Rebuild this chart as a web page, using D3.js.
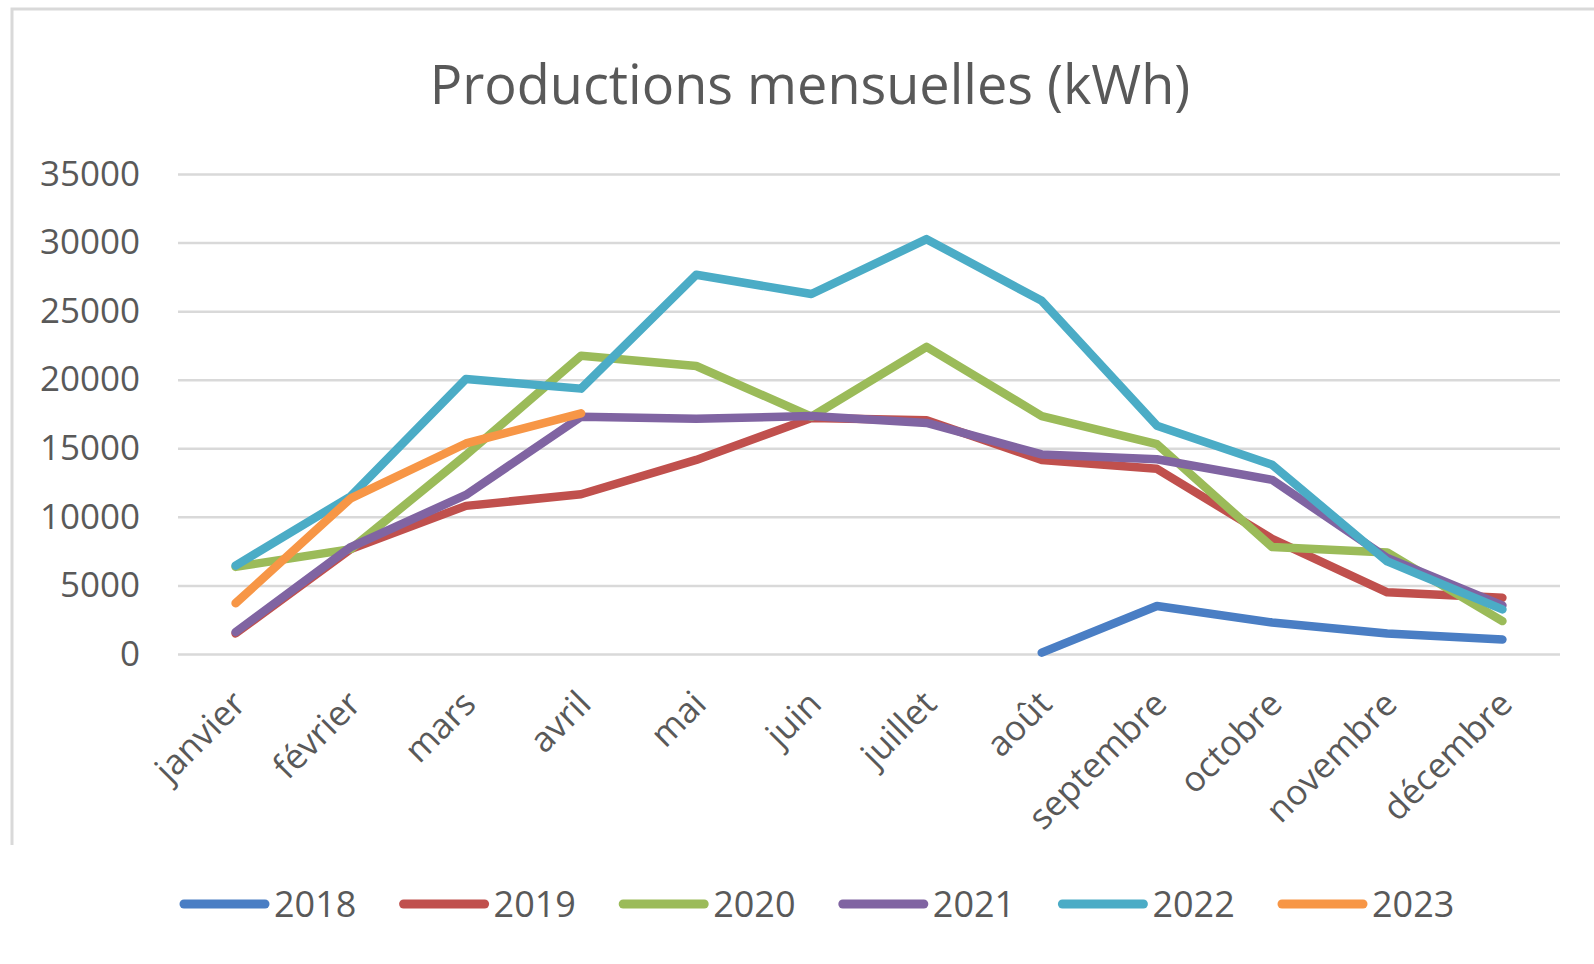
<!DOCTYPE html>
<html>
<head>
<meta charset="utf-8">
<script src="https://cdn.jsdelivr.net/npm/d3@7"></script>
<style>
  body { margin: 0; background: #fff; }
  text { font-family: "Open Sans", "Noto Sans", sans-serif; fill: #595959; }
</style>
</head>
<body>
<svg id="chart" width="1594" height="964"></svg>
<script>
// months along x axis
const months = ["janvier", "février", "mars", "avril", "mai", "juin", "juillet",
  "août", "septembre", "octobre", "novembre", "décembre"];
const years = ["2018", "2019", "2020", "2021", "2022", "2023"];
const colors = ["#4a7ec4", "#c0504d", "#9bbb59", "#8064a2", "#4bacc6", "#f79646"];
const yTicks = [0, 5000, 10000, 15000, 20000, 25000, 30000, 35000];

// monthly production (kWh), null = no data
const prod2018 = [null, null, null, null, null, null, null, 100, 3500, 2300, 1500, 1050];
const prod2019 = [1500, 7650, 10800, 11650, 14150, 17200, 17050, 14150, 13500, 8400, 4500, 4100];
const prod2020 = [6350, 7650, 14500, 21750, 21000, 17300, 22400, 17350, 15300, 7800, 7400, 2400];
const prod2021 = [1600, 7800, 11600, 17300, 17150, 17350, 16850, 14550, 14200, 12700, 7000, 3550];
const prod2022 = [6450, 11500, 20050, 19350, 27650, 26250, 30250, 25750, 16650, 13800, 6750, 3250];
const prod2023 = [3700, 11350, 15350, 17550, null, null, null, null, null, null, null, null];

const series = [prod2018, prod2019, prod2020, prod2021, prod2022, prod2023];

var svg = d3.select("#chart"),
  margin = { top: 174, right: 34, bottom: 310, left: 178 },
  width = +svg.attr("width") - margin.left - margin.right,
  height = +svg.attr("height") - margin.top - margin.bottom;

// chart frame (top and left edges only are visible)
svg.append("path")
  .attr("d", "M12,845 L12,9 L1594,9")
  .attr("fill", "none")
  .attr("stroke", "#d9d9d9")
  .attr("stroke-width", 3);

svg.append("text")
  .attr("x", 810)
  .attr("y", 104)
  .attr("text-anchor", "middle")
  .style("font-size", "54px")
  .text("Productions mensuelles (kWh)");

var x = d3.scaleBand().domain(months).range([0, width]),
  y = d3.scaleLinear().domain([0, 35000]).range([height, 0]);

var g = svg.append("g")
  .attr("transform", `translate(${margin.left},${margin.top})`);

// gridlines + y labels
g.append("g")
  .attr("class", "axis axis--y")
  .call(d3.axisLeft(y).tickValues(yTicks).tickSize(-width).tickPadding(38).tickFormat(d3.format("d")))
  .call(a => a.select(".domain").remove())
  .call(a => a.selectAll("line").attr("stroke", "#d9d9d9").attr("stroke-width", 2.5))
  .call(a => a.selectAll("text").attr("fill", "#595959").style("font-size", "35px")
    .attr("font-family", null));

// x labels, rotated
g.append("g")
  .attr("class", "axis axis--x")
  .attr("transform", `translate(0,${height})`)
  .call(d3.axisBottom(x).tickSize(0).tickPadding(0))
  .call(a => a.select(".domain").remove())
  .selectAll("text")
  .attr("fill", "#595959")
  .attr("font-family", null)
  .style("font-size", "35px")
  .style("text-anchor", "end")
  .attr("dx", "0")
  .attr("dy", "0")
  .attr("transform", "translate(12,52) rotate(-45)");

var line = d3.line()
  .defined(d => d != null)
  .x((d, i) => x(months[i]) + x.bandwidth() / 2)
  .y(d => y(d));

g.selectAll(".serie")
  .data(series)
  .enter()
  .append("path")
  .attr("class", "serie")
  .attr("fill", "none")
  .attr("stroke", (d, i) => colors[i])
  .attr("stroke-width", 8.5)
  .attr("stroke-linejoin", "round")
  .attr("stroke-linecap", "round")
  .attr("d", line);

// legend
var legend = svg.append("g").attr("transform", "translate(180,904)");
var item = legend.selectAll(".item")
  .data(years)
  .enter()
  .append("g")
  .attr("class", "item")
  .attr("transform", (d, i) => `translate(${i * 219.6},0)`);

item.append("line")
  .attr("x1", 4).attr("x2", 85)
  .attr("stroke", (d, i) => colors[i])
  .attr("stroke-width", 9)
  .attr("stroke-linecap", "round");

item.append("text")
  .attr("x", 94)
  .attr("dy", "0.36em")
  .style("font-size", "36px")
  .text(d => d);
</script>
</body>
</html>
